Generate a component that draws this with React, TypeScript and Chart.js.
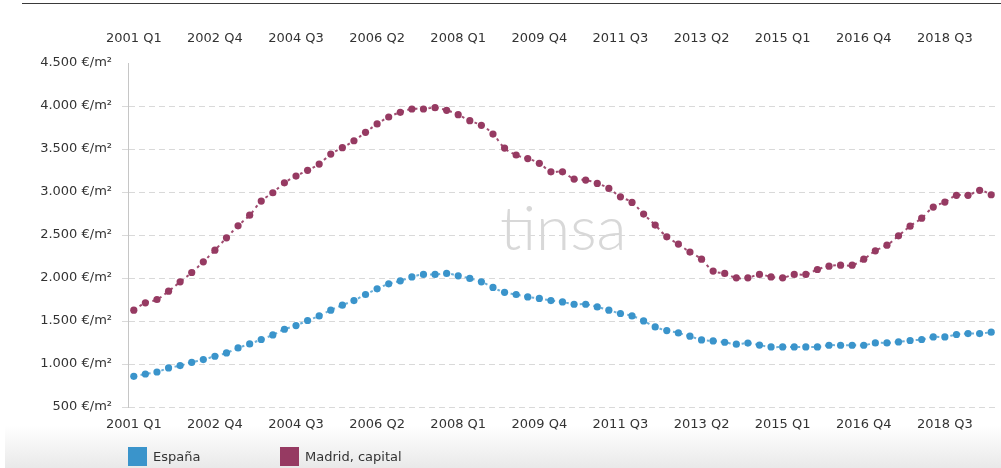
import React, { useEffect, useRef } from "react";
import { Chart, registerables } from "chart.js";

Chart.register(...registerables);

const quarterLabels = [
  "2001 Q1", "2001 Q2", "2001 Q3", "2001 Q4",
  "2002 Q1", "2002 Q2", "2002 Q3", "2002 Q4",
  "2003 Q1", "2003 Q2", "2003 Q3", "2003 Q4",
  "2004 Q1", "2004 Q2", "2004 Q3", "2004 Q4",
  "2005 Q1", "2005 Q2", "2005 Q3", "2005 Q4",
  "2006 Q1", "2006 Q2", "2006 Q3", "2006 Q4",
  "2007 Q1", "2007 Q2", "2007 Q3", "2007 Q4",
  "2008 Q1", "2008 Q2", "2008 Q3", "2008 Q4",
  "2009 Q1", "2009 Q2", "2009 Q3", "2009 Q4",
  "2010 Q1", "2010 Q2", "2010 Q3", "2010 Q4",
  "2011 Q1", "2011 Q2", "2011 Q3", "2011 Q4",
  "2012 Q1", "2012 Q2", "2012 Q3", "2012 Q4",
  "2013 Q1", "2013 Q2", "2013 Q3", "2013 Q4",
  "2014 Q1", "2014 Q2", "2014 Q3", "2014 Q4",
  "2015 Q1", "2015 Q2", "2015 Q3", "2015 Q4",
  "2016 Q1", "2016 Q2", "2016 Q3", "2016 Q4",
  "2017 Q1", "2017 Q2", "2017 Q3", "2017 Q4",
  "2018 Q1", "2018 Q2", "2018 Q3", "2018 Q4",
  "2019 Q1", "2019 Q2", "2019 Q3",
];

const espanaValues = [
  857, 884, 907, 954, 982, 1020, 1052, 1090, 1129, 1187,
  1233, 1285, 1338, 1404, 1447, 1506, 1559, 1626, 1684, 1738,
  1808, 1874, 1932, 1967, 2013, 2041, 2041, 2053, 2025, 1995,
  1955, 1890, 1833, 1808, 1780, 1762, 1738, 1722, 1695, 1695,
  1664, 1626, 1587, 1559, 1501, 1431, 1389, 1361, 1323, 1280,
  1268, 1253, 1230, 1243, 1220, 1198, 1198, 1198, 1198, 1198,
  1218, 1218, 1218, 1218, 1245, 1245, 1257, 1273, 1285, 1315,
  1315, 1343, 1354, 1354, 1370,
];

const madridValues = [
  1626, 1711, 1750, 1847, 1955, 2064, 2188, 2324, 2467, 2607,
  2731, 2894, 2991, 3107, 3185, 3252, 3325, 3441, 3515, 3596,
  3694, 3791, 3872, 3927, 3965, 3965, 3980, 3950, 3899, 3829,
  3775, 3674, 3511, 3430, 3389, 3334, 3235, 3235, 3150, 3139,
  3100, 3042, 2944, 2879, 2743, 2615, 2479, 2394, 2301, 2219,
  2080, 2053, 2002, 2002, 2041, 2013, 2002, 2041, 2041, 2099,
  2138, 2149, 2149, 2219, 2316, 2382, 2490, 2603, 2696, 2825,
  2883, 2961, 2961, 3019, 2968,
];

const seriesNames = ["España", "Madrid, capital"];
const seriesColors = ["#3a94cb", "#963a62"];
const seriesLineColors = ["rgba(58,148,203,0.75)", "rgba(150,58,98,0.9)"];

const yMin = 500;
const yMax = 4500;
const yStep = 500;
const labelEvery = 7;
const unitSuffix = " €/m²";

const FONT = '"DejaVu Sans", Verdana, sans-serif';
const TEXT_COLOR = "#333333";

function formatValue(v: number): string {
  return String(v).replace(/\B(?=(\d{3})+(?!\d))/g, ".") + unitSuffix;
}

const watermarkPlugin = {
  id: "watermark",
  beforeDatasetsDraw(chart: any) {
    const { ctx, chartArea } = chart;
    ctx.save();
    ctx.font = '300 62px Lato, "Open Sans", sans-serif';
    ctx.fillStyle = "#d8d8d8";
    ctx.textBaseline = "alphabetic";
    ctx.textAlign = "left";
    const x = chartArea.left + (chartArea.right - chartArea.left) * 0.428;
    const y = chartArea.top + (chartArea.bottom - chartArea.top) * 0.543;
    ctx.fillText("tinsa", x, y);
    ctx.restore();
  },
};

export default function App() {
  const canvasRef = useRef<HTMLCanvasElement>(null);

  useEffect(() => {
    if (!canvasRef.current) return;
    const xTickCallback = (_v: any, i: number) =>
      i % labelEvery === 0 ? quarterLabels[i] : null;

    const commonX = {
      type: "category" as const,
      offset: true,
      grid: { display: false, drawTicks: false },
      border: { display: false },
      ticks: {
        autoSkip: false,
        maxRotation: 0,
        minRotation: 0,
        color: TEXT_COLOR,
        font: { family: FONT, size: 13 },
        callback: xTickCallback,
      },
    };

    const chart = new Chart(canvasRef.current, {
      type: "line",
      data: {
        labels: quarterLabels,
        datasets: [espanaValues, madridValues].map((vals, k) => ({
          label: seriesNames[k],
          data: vals,
          borderColor: seriesLineColors[k],
          backgroundColor: seriesColors[k],
          borderWidth: 2,
          borderDash: [3, 4],
          pointRadius: 3.6,
          pointBorderWidth: 0,
          pointBackgroundColor: seriesColors[k],
          tension: 0.4,
          fill: false,
          xAxisID: "x",
          yAxisID: "y",
        })),
      },
      options: {
        animation: false,
        responsive: false,
        maintainAspectRatio: false,
        layout: { padding: { left: 0, right: 1, top: 0, bottom: 0 } },
        plugins: {
          legend: { display: false },
          tooltip: { enabled: false },
        },
        scales: {
          x: {
            ...commonX,
            position: "bottom",
            ticks: { ...commonX.ticks, padding: 10 },
            afterFit: (s: any) => {
              s.height = 61;
            },
          },
          x2: {
            ...commonX,
            position: "top",
            ticks: { ...commonX.ticks, padding: 17 },
            afterFit: (s: any) => {
              s.height = 63;
            },
          },
          y: {
            min: yMin,
            max: yMax,
            ticks: {
              stepSize: yStep,
              padding: 10,
              color: TEXT_COLOR,
              font: { family: FONT, size: 13 },
              callback: (v: any) => formatValue(Number(v)),
            },
            grid: {
              drawTicks: true,
              tickLength: 6,
              lineWidth: 1,
              color: (c: any) =>
                c.tick && c.tick.value === yMax ? "rgba(0,0,0,0)" : "#d9d9d9",
            },
            border: { display: true, color: "#c6c6c6", width: 1, dash: [6, 4] },
            afterFit: (s: any) => {
              s.width = 128;
            },
          },
        },
      } as any,
      plugins: [watermarkPlugin],
    });
    return () => chart.destroy();
  }, []);

  const legendItem = (k: number, left: number) => (
    <div
      key={k}
      style={{
        position: "absolute",
        left,
        top: 447,
        height: 19,
        display: "flex",
        alignItems: "center",
        fontFamily: FONT,
        fontSize: 13,
        color: TEXT_COLOR,
        whiteSpace: "nowrap",
      }}
    >
      <div
        style={{
          width: 19,
          height: 19,
          background: seriesColors[k],
          marginRight: 6,
        }}
      />
      <span>{seriesNames[k]}</span>
    </div>
  );

  return (
    <div
      style={{
        position: "fixed",
        left: 0,
        top: 0,
        width: 1001,
        height: 468,
        background: "#ffffff",
        overflow: "hidden",
      }}
    >
      <div
        style={{
          position: "absolute",
          left: 5,
          top: 426,
          width: 996,
          height: 42,
          background: "linear-gradient(#ffffff, #e9e9e9)",
        }}
      />
      <div
        style={{
          position: "absolute",
          left: 22,
          top: 3,
          width: 979,
          height: 1,
          background: "#3a3a3a",
        }}
      />
      <canvas
        ref={canvasRef}
        width={1001}
        height={468}
        style={{ position: "absolute", left: 0, top: 0, display: "block" }}
      />
      {legendItem(0, 128)}
      {legendItem(1, 280)}
    </div>
  );
}
